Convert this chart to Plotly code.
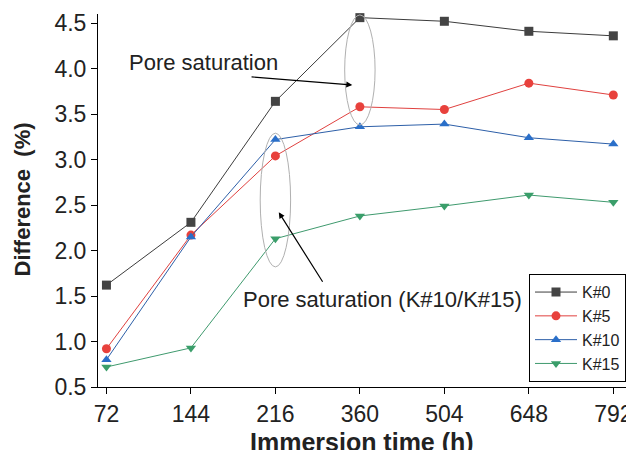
import plotly.graph_objects as go

x_labels = ["72", "144", "216", "360", "504", "648", "792"]
k0 = [1.62, 2.31, 3.64, 4.56, 4.52, 4.41, 4.36]
k5 = [0.92, 2.17, 3.04, 3.58, 3.55, 3.84, 3.71]
k10 = [0.80, 2.15, 3.22, 3.36, 3.39, 3.24, 3.17]
k15 = [0.72, 0.93, 2.13, 2.38, 2.49, 2.61, 2.53]
y_ticks = [0.5, 1.0, 1.5, 2.0, 2.5, 3.0, 3.5, 4.0, 4.5]

series = [
    ("K#0", k0, "#3c3c3c", "#444444", "square"),
    ("K#5", k5, "#e0413f", "#e8413c", "circle"),
    ("K#10", k10, "#2d5fa8", "#2a6fc9", "triangle-up"),
    ("K#15", k15, "#3f9a6e", "#3a9e6a", "triangle-down"),
]

xi = list(range(len(x_labels)))
fig = go.Figure()
for name, vals, lc, mc, sym in series:
    fig.add_trace(go.Scatter(
        x=xi, y=vals, name=name, mode="lines+markers",
        line=dict(color=lc, width=1),
        marker=dict(symbol=sym, size=9, color=mc),
        cliponaxis=False,
    ))

FONT = "Liberation Sans, Arial, sans-serif"

# ellipses
fig.add_shape(type="circle", xref="x", yref="y", x0=2.82, x1=3.18, y0=3.38, y1=4.59,
              line=dict(color="#b0b0b0", width=1))
fig.add_shape(type="circle", xref="x", yref="y", x0=1.82, x1=2.18, y0=1.82, y1=3.29,
              line=dict(color="#b0b0b0", width=1))

fig.add_annotation(x=2.91, y=3.82, ax=1.70, ay=3.91, xref="x", yref="y", axref="x", ayref="y",
                   showarrow=True, arrowhead=2, arrowsize=1, arrowwidth=1.2, arrowcolor="black", text="")
fig.add_annotation(x=2.04, y=2.42, ax=2.57, ay=1.64, xref="x", yref="y", axref="x", ayref="y",
                   showarrow=True, arrowhead=2, arrowsize=1, arrowwidth=1.2, arrowcolor="black", text="")
fig.add_annotation(x=1.15, y=4.07, xref="x", yref="y", text="Pore saturation", showarrow=False,
                   font=dict(family=FONT, size=22, color="#222"))
fig.add_annotation(x=3.27, y=1.46, xref="x", yref="y", text="Pore saturation (K#10/K#15)", showarrow=False,
                   font=dict(family=FONT, size=22, color="#222"))

# axis titles
fig.add_annotation(x=0.5, y=0, xref="paper", yref="paper", yshift=-39, xanchor="center", yanchor="top",
                   text="<b>Immersion time (h)</b>", showarrow=False,
                   font=dict(family=FONT, size=25, color="#222"))
fig.add_annotation(x=0, y=0.5, xref="paper", yref="paper", xshift=-76, yshift=1, xanchor="center", yanchor="middle",
                   text="<b>Difference  (%)</b>", showarrow=False, textangle=-90,
                   font=dict(family=FONT, size=22, color="#222"))

fig.update_layout(
    width=626, height=442,
    margin=dict(l=90, r=8, t=6, b=63, autoexpand=False),
    paper_bgcolor="white", plot_bgcolor="white",
    font=dict(family=FONT, color="#222"),
    legend=dict(x=1, y=0.013, xanchor="right", yanchor="bottom",
                bordercolor="black", borderwidth=1, bgcolor="white",
                font=dict(family=FONT, size=16, color="#222"),
                tracegroupgap=0, itemwidth=42),
    showlegend=True,
)
fig.update_xaxes(
    range=[-0.1, 6.15], tickvals=xi, ticktext=x_labels, automargin=False,
    showline=True, linecolor="black", linewidth=1, showgrid=False, zeroline=False,
    ticks="outside", ticklen=6, tickcolor="black",
    tickfont=dict(family=FONT, size=23, color="#222"),
)
fig.update_yaxes(
    range=[0.5, 4.6], tickvals=y_ticks, ticktext=[f"{v:.1f}" for v in y_ticks], automargin=False,
    showline=True, linecolor="black", linewidth=1, showgrid=False, zeroline=False,
    ticks="outside", ticklen=6, tickcolor="black",
    tickfont=dict(family=FONT, size=23, color="#222"),
)

fig.write_html("out.html")
